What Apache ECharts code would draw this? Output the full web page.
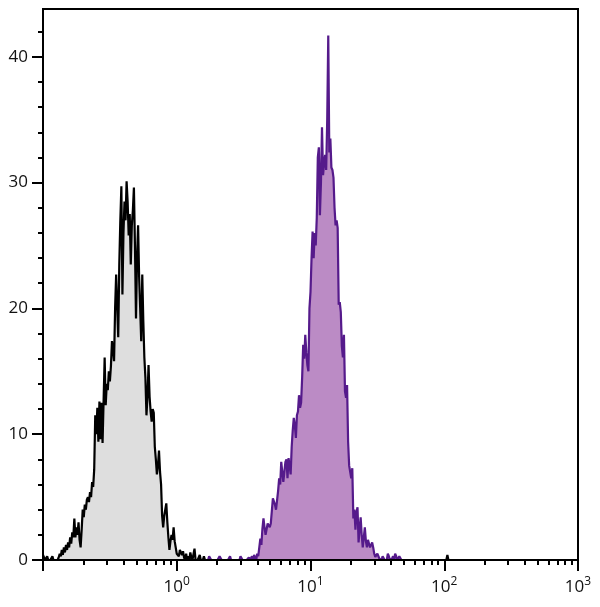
<!DOCTYPE html>
<html><head><meta charset="utf-8">
<script src="https://cdn.jsdelivr.net/npm/echarts@6/dist/echarts.min.js"></script>
<style>html,body{margin:0;padding:0;background:#fff}#c{width:600px;height:607px}</style>
</head><body><div id="c"></div>
<script>
// Histogram channels: 512 channels over 4 decades (128 channels per decade), starting at 10^-1
const CHANNELS_PER_DECADE = 128;
const X_MIN_DECADE = -1;
const X_MAX_DECADE = 3;

// Unstained control (gray), counts per channel starting at channel 0
const grayStart = 0;
const grayCounts = [
  0.4,0.4,0,0,0.3,0,0,0,0,0.3,
  0,0,0,0,0,0.2,0.5,0.3,0.8,0.4,
  1.0,0.6,1.2,0.8,1.4,1.0,1.8,1.3,2.2,1.8,
  3.3,1.8,2.6,2.0,3.0,1.6,1.0,2.4,4.0,3.4,
  4.4,4.0,4.8,5.0,4.6,5.4,5.0,6.2,5.8,7.2,
  11.5,10.0,12.1,9.4,12.6,9.6,12.5,9.3,12.7,16.1,
  12.3,14.0,13.5,15.0,14.2,15.4,17.4,16.8,15.8,20.0,
  22.7,22.7,17.7,23.5,27.0,29.7,21.1,26.0,28.5,27.0,
  30.1,28.5,25.8,27.5,23.5,26.6,27.8,29.6,25.0,19.2,
  24.0,26.6,22.5,20.0,17.4,22.7,19.0,16.1,14.5,11.5,
  13.0,15.5,13.0,11.8,11.0,12.0,11.7,9.0,8.0,6.8,
  7.5,8.7,7.0,6.0,3.5,2.6,3.5,4.0,4.5,3.0,
  1.8,0.8,1.5,2.0,1.6,2.6,1.5,1.0,0.5,0.5,
  0.3,0.8,0.9,0.4,0.7,0.2,0,0.5,0,0.3,
  0,0.6,0.2,0,0,0.9,0,0,0,0,
  0.4,0,0,0,0.3,0];
const grayTailStart = 386;
const grayTailCounts = [0,0.4,0];

// Stained sample (purple), counts per channel starting at channel 156
const purpleStart = 156;
const purpleCounts = [
  0,0,0,0.3,0.3,0,0,0,0,0,
  0,0,0,0.3,0.3,0,0,0,0,0,
  0,0,0,0.3,0,0,0,0,0,0,
  0,0,0,0.3,0.3,0,0,0,0,0,
  0,0.2,0,0,0.3,0,0.4,0.2,0,0.5,
  0.3,1.0,1.7,1.2,2.5,3.3,2.6,2.0,2.0,2.9,
  2.9,2.6,2.9,2.9,4.9,4.9,4.4,4.0,4.0,5.5,
  6.5,6.0,7.8,7.0,6.2,7.0,7.8,8.0,6.5,8.1,
  7.5,6.8,9.0,10.3,11.3,10.7,9.7,11.5,11.8,13.1,
  12.1,12.5,14.5,17.1,16.0,17.9,16.5,15.5,15.0,20.0,
  21.3,24.0,26.1,24.0,26.0,25.0,27.2,32.0,32.8,27.4,
  30.0,34.4,30.6,31.5,32.2,31.0,35.0,41.7,32.4,33.5,
  31.2,31.0,30.4,28.0,26.6,27.0,26.4,20.3,20.5,19.7,
  17.0,16.1,17.9,13.4,12.9,13.9,9.4,7.5,7.6,6.5,
  7.3,3.3,4.0,2.4,3.8,4.2,1.4,2.5,3.4,2.0,
  1.0,1.8,2.6,1.5,1.0,1.6,1.6,1.0,1.2,1.4,
  1.0,0.5,0.25,0.3,0.5,0.5,0.1,0.1,0,0.3,
  0.3,0,0,0,0.5,0.3,0,0,0.1,0.3,
  0,0.5,0.3,0,0,0.3,0.3,0,0];

const xMajorDecades = [-1,0,1,2,3];
const xLabelDecades = [0,1,2,3];
const yMajorTicks = [0,10,20,30,40];
const yMinorTicks = [2,4,6,8,12,14,16,18,22,24,26,28,32,34,36,38,42];
const Y_MAX = 43.8;

function toXY(start, counts) {
  return counts.map((v, i) => [X_MIN_DECADE + (start + i) / CHANNELS_PER_DECADE, v]);
}
const grayData = toXY(grayStart, grayCounts)
  .concat([[X_MIN_DECADE + (grayTailStart - 1) / CHANNELS_PER_DECADE, '-']])
  .concat(toXY(grayTailStart, grayTailCounts));
const purpleData = toXY(purpleStart, purpleCounts);

const xMinor = [];
for (let d = X_MIN_DECADE; d < X_MAX_DECADE; d++) {
  for (let k = 2; k <= 9; k++) xMinor.push(d + Math.log10(k));
}

const FONT = 'Open Sans';
const chart = echarts.init(document.getElementById('c'), null, {renderer: 'canvas'});
chart.setOption({
  animation: false,
  backgroundColor: '#fff',
  grid: {left: 43, right: 22, top: 9, bottom: 47, show: true, borderColor: '#000', borderWidth: 2, backgroundColor: 'transparent'},
  xAxis: [{
    type: 'value', min: X_MIN_DECADE, max: X_MAX_DECADE, z: 5,
    axisLine: {show: true, onZero: false, lineStyle: {color: '#000', width: 2}},
    axisTick: {show: true, length: 11, lineStyle: {color: '#000', width: 2}, customValues: xMajorDecades},
    axisLabel: {
      customValues: xLabelDecades, margin: 16,
      formatter: v => '{b|10}{s|' + v + '}',
      rich: {
        b: {fontFamily: FONT, fontSize: 17, color: '#111'},
        s: {fontFamily: FONT, fontSize: 12, color: '#111', verticalAlign: 'top', padding: [0, 0, 10, 0]}
      }
    },
    splitLine: {show: false}
  }, {
    type: 'value', min: X_MIN_DECADE, max: X_MAX_DECADE, position: 'bottom', z: 5,
    axisLine: {show: false, onZero: false},
    axisTick: {show: true, length: 5, lineStyle: {color: '#000', width: 2}, customValues: xMinor},
    axisLabel: {show: false},
    splitLine: {show: false}
  }],
  yAxis: [{
    type: 'value', min: 0, max: Y_MAX, z: 5,
    axisLine: {show: true, onZero: false, lineStyle: {color: '#000', width: 2}},
    axisTick: {show: true, length: 11, lineStyle: {color: '#000', width: 2}, customValues: yMajorTicks},
    axisLabel: {customValues: yMajorTicks, margin: 15, fontFamily: FONT, fontSize: 17, color: '#111'},
    splitLine: {show: false}
  }, {
    type: 'value', min: 0, max: Y_MAX, position: 'left', z: 5,
    axisLine: {show: false, onZero: false},
    axisTick: {show: true, length: 5, lineStyle: {color: '#000', width: 2}, customValues: yMinorTicks},
    axisLabel: {show: false},
    splitLine: {show: false}
  }],
  series: [{
    type: 'line', xAxisIndex: 0, yAxisIndex: 0, data: grayData, showSymbol: false, symbol: 'none',
    lineStyle: {color: '#000', width: 2.2}, areaStyle: {color: '#dedede', opacity: 1}, z: 2
  }, {
    type: 'line', xAxisIndex: 0, yAxisIndex: 0, data: purpleData, showSymbol: false, symbol: 'none',
    lineStyle: {color: '#551a8b', width: 2.2}, areaStyle: {color: '#bb8bc5', opacity: 1}, z: 3
  }]
});
</script></body></html>
